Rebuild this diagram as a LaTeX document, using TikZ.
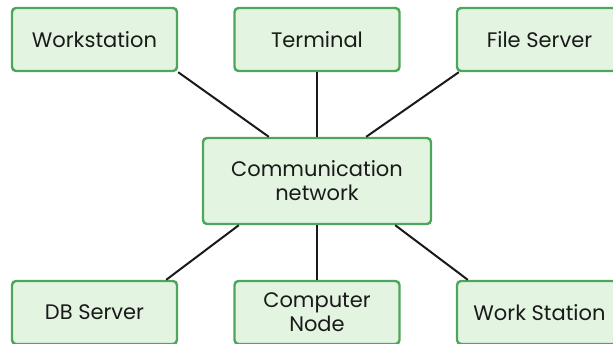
\documentclass[tikz,border=0pt]{standalone}
\usepackage{fontspec}
\setmainfont{Poppins}
\definecolor{boxfill}{HTML}{E3F5E1}
\definecolor{boxline}{HTML}{4DA65B}
\definecolor{linkcol}{HTML}{1A1A1A}
\tikzset{
  unitbox/.style={draw=boxline, fill=boxfill, line width=2.4pt, rounded corners=4pt,
    minimum width=165pt, minimum height=63pt, align=center, inner sep=0pt,
    font=\fontsize{21}{24}\selectfont, text=linkcol},
  hubbox/.style={unitbox, minimum width=228pt, minimum height=86pt},
  link/.style={draw=linkcol, line width=2pt}
}
\begin{document}
\begin{tikzpicture}[x=1pt, y=-1pt]
    \useasboundingbox (0,0) rectangle (613,343);

    % top row
    \node[unitbox] (ws) at (94.5,39.5) {Workstation};
    \node[unitbox] (term) at (317,39.5) {Terminal};
    \node[unitbox] (fs) at (539.5,39.5) {File Server};

    \node[hubbox] (comm) at (317,181) {Communication\\network};

    % bottom row
    \node[unitbox] (db) at (94.5,312.5) {DB Server};
    \node[unitbox] (cn) at (317,312.5) {Computer\\Node};
    \node[unitbox] (ws2) at (539.5,312.5) {Work Station};

    \draw[link] (ws.south east) -- ([xshift=67pt]comm.north west);
    \draw[link] (term) -- (comm);
    \draw[link] ([xshift=3pt]fs.south west) -- ([xshift=-66pt]comm.north east);

    \draw[link] ([xshift=37pt]comm.south west) -- ([xshift=-12pt]db.north east);
    \draw[link] (comm) -- (cn);
    \draw[link] ([xshift=-37pt]comm.south east) -- ([xshift=12pt]ws2.north west);
\end{tikzpicture}
\end{document}
